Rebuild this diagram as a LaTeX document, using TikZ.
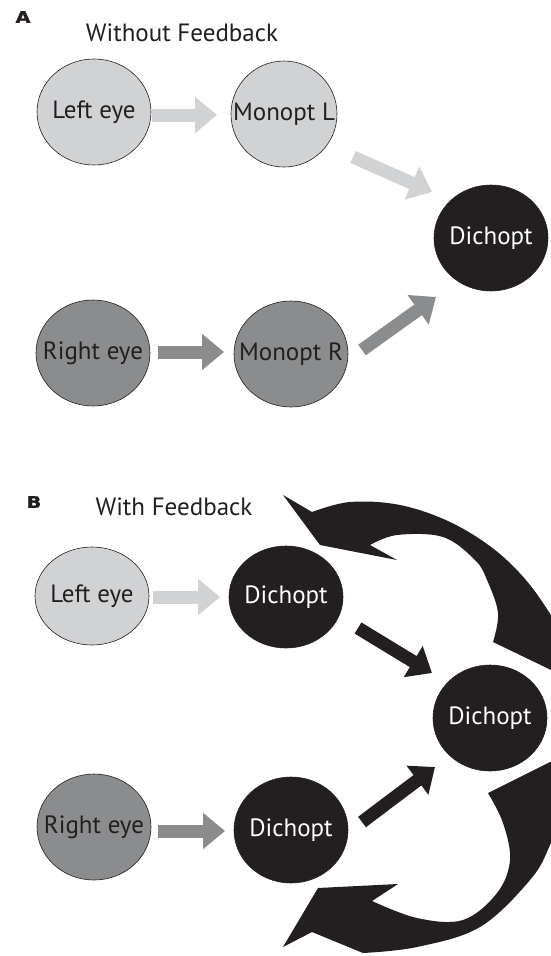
\documentclass[tikz,border=0pt]{standalone}
\usepackage{fontspec}
\setmainfont{PT Sans}
\newfontfamily\labelfont[FakeStretch=1.2,FakeBold=1.5]{DejaVu Sans}
\usetikzlibrary{arrows.meta,shapes.geometric}
\definecolor{lg}{HTML}{D1D2D4}
\definecolor{dg}{HTML}{8B8C8E}
\definecolor{bk}{HTML}{231F20}
\newcommand{\ctext}[1]{\makebox[0pt][c]{#1}}
\begin{document}
\begin{tikzpicture}[x=1pt,y=-1pt,
  blob/.style={ellipse, draw=bk, line width=0.6pt, minimum width=114pt, minimum height=106pt, inner sep=0pt, font=\fontsize{25}{30}\selectfont},
  lgnode/.style={blob, fill=lg, text=bk},
  dgnode/.style={blob, fill=dg, text=bk},
  bknode/.style={blob, fill=bk, text=white},
  blockarrow/.style={line width=13pt, -{Triangle[length=22pt,width=35pt]}},
  lga/.style={blockarrow, draw=lg, fill=lg},
  dga/.style={blockarrow, draw=dg, fill=dg},
  bka/.style={blockarrow, draw=bk, fill=bk},
  title/.style={font=\fontsize{25}{30}\selectfont, text=bk, inner sep=0pt},
  plabel/.style={font=\labelfont\bfseries\fontsize{16}{18}\selectfont, text=bk, inner sep=0pt}
]
\useasboundingbox (0,0) rectangle (551,956);
\fill[white] (0,0) rectangle (551,956);
\clip (0,0) rectangle (551,956);

% ---------- Panel A ----------
\node[plabel] (lA) at (23,17) {A};
\node[title] (tA) at (182,33) {Without Feedback};

\node[lgnode] (leA) at (94,112) {\ctext{Left eye}};
\node[lgnode, minimum width=106pt] (mlA) at (284,114) {\ctext{Monopt L}};
\node[bknode] (dA) at (491,238) {\ctext{Dichopt}};
\node[dgnode] (reA) at (93,353) {\ctext{Right eye}};
\node[dgnode] (mrA) at (291,354) {\ctext{Monopt R}};

\coordinate (a1s) at (152,115); \coordinate (a1e) at (217,115);
\coordinate (a2s) at (353,157); \coordinate (a2e) at (432,192);
\coordinate (a3s) at (158,352); \coordinate (a3e) at (224,352);
\coordinate (a4s) at (362,350); \coordinate (a4e) at (436,297);
\draw[lga] (a1s) -- (a1e);
\draw[lga] (a2s) -- (a2e);
\draw[dga] (a3s) -- (a3e);
\draw[dga] (a4s) -- (a4e);

% ---------- Panel B ----------
\node[plabel] (lB) at (34,502) {B};
\node[title] (tB) at (174,507) {With Feedback};

\node[lgnode, minimum height=98pt] (leB) at (92,596) {\ctext{Left eye}};
\node[bknode, minimum height=102pt] (d1B) at (286,597) {\ctext{Dichopt}};
\node[bknode] (dcB) at (490,718) {\ctext{Dichopt}};
\node[dgnode] (reB) at (94,827) {\ctext{Right eye}};
\node[bknode] (d2B) at (291,830) {\ctext{Dichopt}};

\coordinate (b1s) at (153,597); \coordinate (b1e) at (220,597);
\coordinate (b2s) at (358,628); \coordinate (b2e) at (432,673);
\coordinate (b3s) at (158,831); \coordinate (b3e) at (225,831);
\coordinate (b4s) at (362,822); \coordinate (b4e) at (435,767);
\draw[lga] (b1s) -- (b1e);
\draw[bka] (b2s) -- (b2e);
\draw[dga] (b3s) -- (b3e);
\draw[bka] (b4s) -- (b4e);

% feedback arrows
\fill[bk] (283,495) -- (312,512)
  -- plot[smooth, tension=0.6] coordinates {(312,512) (350,502) (400,505) (450,522) (495,550) (530,585) (560,630) (575,660)}
  -- (578,683) -- (493,642)
  -- plot[smooth, tension=0.6] coordinates {(493,642) (498,613) (487,580) (475,560) (443,537) (397,535) (370,545)}
  -- (397,560) -- (320,545) -- cycle;

\fill[bk] (283,947) -- (318,888) -- (398,884) -- (372,901)
  -- plot[smooth, tension=0.6] coordinates {(372,901) (417,918) (463,920) (497,893) (510,860) (503,823) (488,793)}
  -- (570,752)
  -- plot[smooth, tension=0.6] coordinates {(570,752) (565,800) (550,845) (530,880) (480,927) (417,947) (363,953)}
  -- (312,932) -- cycle;
\end{tikzpicture}
\end{document}
